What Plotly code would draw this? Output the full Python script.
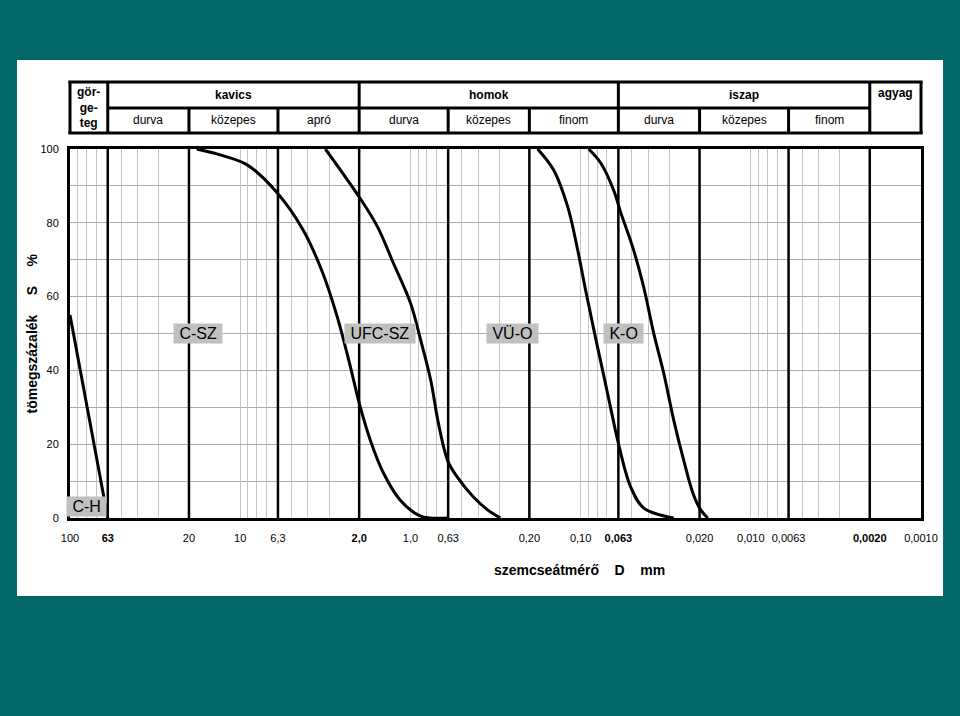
import math
import plotly.graph_objects as go

# ---------------- data ----------------
size_tick_vals = [100, 60, 20, 10, 6, 2, 1, 0.6, 0.2, 0.1, 0.06, 0.02, 0.01, 0.006, 0.002, 0.001]
size_tick_text = ["100", "<b>63</b>", "20", "10", "6,3", "<b>2,0</b>", "1,0", "0,63",
                  "0,20", "0,10", "<b>0,063</b>", "0,020", "0,010", "0,0063", "<b>0,0020</b>", "0,0010"]
minor_grid_vals = [90, 80, 70, 50, 40, 30,
                   9, 8, 7, 5, 4, 3,
                   0.9, 0.8, 0.7, 0.5, 0.4, 0.3,
                   0.09, 0.08, 0.07, 0.05, 0.04, 0.03,
                   0.009, 0.008, 0.007, 0.005, 0.004, 0.003]
class_bounds = [60, 20, 6, 2, 0.6, 0.2, 0.06, 0.02, 0.006, 0.002]
pct_ticks = [0, 20, 40, 60, 80, 100]

main_classes = ["kavics", "homok", "iszap"]
main_class_bounds = [(60, 2), (2, 0.06), (0.06, 0.002)]
sub_classes = ["durva", "közepes", "apró", "durva", "közepes", "finom", "durva", "közepes", "finom"]
boulder_label = "gör-<br>ge-<br>teg"
clay_label = "agyag"
axis_min, axis_max = 0.001, 100

ch_d = [100, 60]
ch_s = [55, 0]

csz_d = [18, 13.1, 9.1, 6.05, 4.26, 3.3, 2.69, 2.25, 2.0, 1.72, 1.44, 1.15, 0.87, 0.6]
csz_s = [100, 98.4, 95.7, 88.1, 78, 66.8, 54.5, 40.9, 31.2, 21.1, 12.2, 4.9, 0.5, 0]

ufc_d = [3.16, 2.0, 1.56, 1.26, 1.0, 0.87, 0.76, 0.685, 0.6, 0.53, 0.426, 0.352, 0.296]
ufc_s = [100, 87, 78.9, 69.1, 58.3, 48.2, 37.4, 25.7, 15.2, 11.1, 5.7, 2.2, 0]

vuo_d = [0.179, 0.144, 0.119, 0.104, 0.0935, 0.0828, 0.0722, 0.0649, 0.0606, 0.0508, 0.0426, 0.0308, 0.0284]
vuo_s = [100, 94.3, 84.3, 72.6, 61.8, 50.1, 37.4, 27.4, 21.1, 8.4, 2.7, 0.3, 0]

ko_d = [0.0897, 0.0762, 0.064, 0.0582, 0.0488, 0.0426, 0.0372, 0.0325, 0.0284, 0.0248, 0.0219, 0.0197, 0.0179]
ko_s = [100, 96.2, 88.9, 82.9, 72.6, 62.6, 50.1, 39.3, 26.6, 15.7, 6.8, 2.2, 0]

curve_names = ["C-H", "C-SZ", "UFC-SZ", "VÜ-O", "K-O"]
curve_d = [ch_d, csz_d, ufc_d, vuo_d, ko_d]
curve_s = [ch_s, csz_s, ufc_s, vuo_s, ko_s]
label_d = [80, 17.7, 1.51, 0.25, 0.0562]
label_s = [3.1, 50, 50, 50, 50]

# ---------------- figure ----------------
FONT = "Arial, Liberation Sans, sans-serif"
TEAL = "#016666"

fig = go.Figure()

# thick class-boundary verticals
vx, vy = [], []
for b in class_bounds:
    vx += [b, b, None]
    vy += [0, 100, None]
fig.add_trace(go.Scatter(x=vx, y=vy, mode="lines", line=dict(color="black", width=2.5),
                         hoverinfo="skip", showlegend=False))

for name, d, s in zip(curve_names, curve_d, curve_s):
    fig.add_trace(go.Scatter(x=d, y=s, mode="lines", name=name,
                             line=dict(color="black", width=3, shape="spline", smoothing=1.0),
                             showlegend=False))

annotations = []
for name, d, s in zip(curve_names, label_d, label_s):
    annotations.append(dict(x=math.log10(d), y=s, xref="x", yref="y",
                            xanchor="center", yanchor="middle",
                            text="\u00a0" + name + "\u00a0", showarrow=False,
                            bgcolor="#c0c0c0", borderpad=1,
                            font=dict(family=FONT, size=16, color="black")))

# header table
shapes = []
# white panel
shapes.append(dict(type="rect", xref="paper", yref="paper", x0=-0.0623, x1=1.0259,
                   y0=-0.2114, y1=1.2412, fillcolor="white", line=dict(width=0), layer="below"))
Y_TOP, Y_MID, Y_BOT = 1.1816, 1.1111, 1.0434
LW = 3
for yy in (Y_TOP, Y_BOT):
    shapes.append(dict(type="line", xref="paper", yref="paper", x0=-0.002, x1=1.002, y0=yy, y1=yy,
                       line=dict(color="black", width=LW)))
shapes.append(dict(type="line", xref="x", yref="paper", x0=class_bounds[0], x1=class_bounds[-1],
                   y0=Y_MID, y1=Y_MID, line=dict(color="black", width=LW)))
for xx in (0, 1):
    shapes.append(dict(type="line", xref="paper", yref="paper", x0=xx, x1=xx, y0=Y_BOT, y1=Y_TOP,
                       line=dict(color="black", width=LW)))
for b in class_bounds:
    top = Y_TOP if b in (60, 2, 0.06, 0.002) else Y_MID
    shapes.append(dict(type="line", xref="x", yref="paper", x0=b, x1=b, y0=Y_BOT, y1=top,
                       line=dict(color="black", width=LW)))

for name, (a, b) in zip(main_classes, main_class_bounds):
    annotations.append(dict(x=(math.log10(a) + math.log10(b)) / 2, y=(Y_TOP + Y_MID) / 2,
                            xref="x", yref="paper", xanchor="center", yanchor="middle",
                            text="<b>" + name + "</b>", showarrow=False,
                            font=dict(family=FONT, size=12, color="black")))
for i, name in enumerate(sub_classes):
    a, b = class_bounds[i], class_bounds[i + 1]
    annotations.append(dict(x=(math.log10(a) + math.log10(b)) / 2, y=(Y_MID + Y_BOT) / 2,
                            xref="x", yref="paper", xanchor="center", yanchor="middle",
                            text=name, showarrow=False,
                            font=dict(family=FONT, size=12, color="black")))
annotations.append(dict(x=(math.log10(axis_max) + math.log10(class_bounds[0])) / 2, y=(Y_TOP + Y_BOT) / 2,
                        xref="x", yref="paper", xanchor="center", yanchor="middle",
                        text="<b>" + boulder_label + "</b>", showarrow=False,
                        font=dict(family=FONT, size=12, color="black")))
annotations.append(dict(x=(math.log10(axis_min) + math.log10(class_bounds[-1])) / 2, y=Y_TOP - 0.006,
                        xref="x", yref="paper", xanchor="center", yanchor="top",
                        text="<b>" + clay_label + "</b>",
                        showarrow=False, font=dict(family=FONT, size=12, color="black")))

# axis titles
annotations.append(dict(x=0.599, y=-0.141, xref="paper", yref="paper", xanchor="center", yanchor="middle",
                        text="<b>szemcseátmérő\u00a0\u00a0\u00a0\u00a0D\u00a0\u00a0\u00a0\u00a0mm</b>",
                        showarrow=False, font=dict(family=FONT, size=14, color="black")))
annotations.append(dict(x=-0.0447, y=0.5, xref="paper", yref="paper", textangle=-90,
                        xanchor="center", yanchor="middle",
                        text="<b>tömegszázalék\u00a0\u00a0\u00a0\u00a0\u00a0S\u00a0\u00a0\u00a0\u00a0\u00a0%</b>",
                        showarrow=False, font=dict(family=FONT, size=14, color="black")))

fig.update_layout(
    width=960, height=716, autosize=False,
    margin=dict(l=70, r=39, t=149, b=198, pad=0),
    paper_bgcolor=TEAL, plot_bgcolor="white",
    font=dict(family=FONT, color="black"),
    shapes=shapes, annotations=annotations, showlegend=False,
)
fig.update_xaxes(
    type="log", range=[math.log10(axis_max), math.log10(axis_min)],
    tickvals=size_tick_vals, ticktext=size_tick_text, tickfont=dict(size=11, color="black"),
    ticks="outside", ticklen=8, tickcolor="rgba(0,0,0,0)",
    showgrid=True, gridcolor="#c4c4c4", gridwidth=1,
    minor=dict(tickvals=minor_grid_vals, showgrid=True, gridcolor="#c4c4c4", gridwidth=1, ticks=""),
    showline=True, linecolor="black", linewidth=3, mirror=True, zeroline=False,
)
fig.update_yaxes(
    range=[0, 100], tickvals=pct_ticks, tickfont=dict(size=11, color="black"),
    ticks="outside", ticklen=6, tickcolor="rgba(0,0,0,0)",
    showgrid=True, gridcolor="#aaaaaa", gridwidth=1,
    minor=dict(dtick=10, showgrid=True, gridcolor="#aaaaaa", gridwidth=1, ticks=""),
    showline=True, linecolor="black", linewidth=3, mirror=True, zeroline=False,
)

fig.write_html("out.html")
